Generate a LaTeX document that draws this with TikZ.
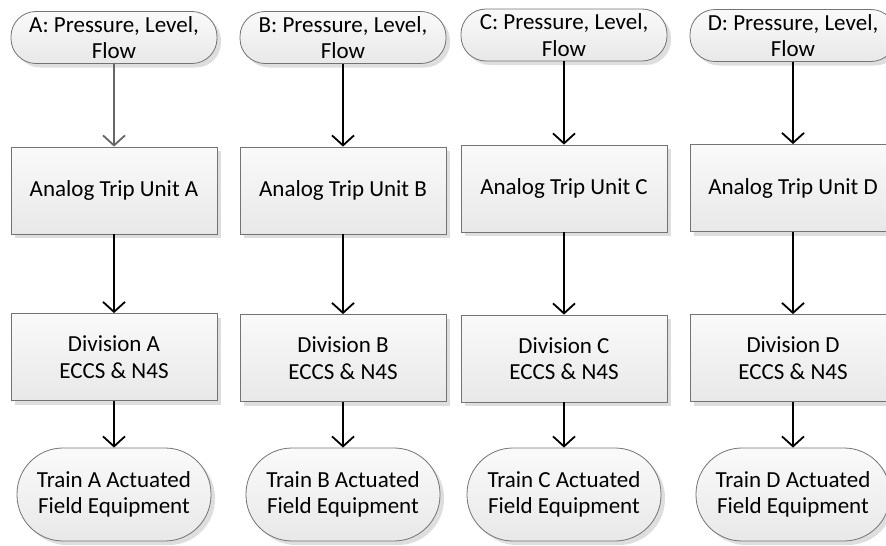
\documentclass[tikz,border=0pt]{standalone}
\usepackage{fontspec}
\setmainfont{Carlito}
\usetikzlibrary{arrows.meta,shadows}

\tikzset{
  shape base/.style={draw=black!55, line width=0.8pt, top color=black!2, bottom color=black!9,
    drop shadow={shadow xshift=4pt, shadow yshift=-4pt, fill=black!13, opacity=1},
    align=center, inner sep=0pt, text=black,
    font=\fontsize{23}{26.5}\selectfont},
  sensor/.style={shape base, rounded corners=25pt, minimum width=206pt, minimum height=52pt},
  unitbox/.style={shape base, rectangle, minimum width=206pt, minimum height=87pt},
  actuated/.style={shape base, rounded corners=46pt, minimum width=194pt, minimum height=93pt},
  link/.style={-{Straight Barb[length=10pt, width=22pt]}, line width=1.8pt}
}

\begin{document}
\begin{tikzpicture}[x=1pt, y=-1pt]
\useasboundingbox (0,0) rectangle (886,546);
\clip (0,0) rectangle (886,546);
% one column per division
\foreach \c/\x/\ya/\yb/\yc/\ink in {A/114/37.5/190.5/357/black!60, B/343/37.5/190.5/358/black,
    C/564/35/188.5/358.5/black, D/793/35.5/188/358/black} {
  \node[sensor] (in\c) at (\x,\ya) {\c: Pressure, Level,\\Flow};
  \node[unitbox] (atu\c) at (\x,\yb) {Analog Trip Unit \c};
  \node[unitbox] (div\c) at (\x,\yc) {Division \c\\ECCS \& N4S};
  \node[actuated] (train\c) at (\x,494.5) {Train \c{} Actuated\\Field Equipment};
  \draw[link, draw=\ink] (in\c) -- (atu\c);
  \draw[link] (atu\c) -- (div\c);
  \draw[link] (div\c) -- (train\c);
}
\end{tikzpicture}
\end{document}
